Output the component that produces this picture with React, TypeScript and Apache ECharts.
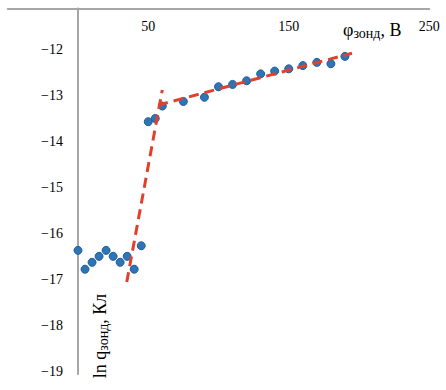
import React, { useEffect, useRef } from "react";
import * as echarts from "echarts";

const FONT = '"Liberation Serif", "Times New Roman", serif';

// φ_зонд, В
const phi = [0, 5, 10, 15, 20, 25, 30, 35, 40, 45, 50, 55, 60, 75, 90, 100, 110, 120, 130, 140, 150, 160, 170, 180, 190];
// ln q_зонд
const lnq = [
  -16.36, -16.77, -16.62, -16.49, -16.36, -16.49, -16.62, -16.49, -16.77, -16.26,
  -13.56, -13.49, -13.22, -13.12, -13.03, -12.8, -12.75, -12.67, -12.52, -12.46,
  -12.41, -12.34, -12.27, -12.3, -12.14,
];
// trend lines (endpoints)
const steepX = [34.7, 60];
const steepY = [-17.05, -12.87];
const flatX = [57, 195];
const flatY = [-13.2, -12.07];

const yTicks = [-19, -18, -17, -16, -15, -14, -13, -12];

export default function App() {
  const ref = useRef<HTMLDivElement>(null);
  useEffect(() => {
    if (!ref.current) return;
    const chart = echarts.init(ref.current, null, { renderer: "svg" });
    const axisLine = { lineStyle: { color: "#A6A6A6", width: 2 } };
    const dashed = {
      color: "#E0402C",
      width: 3,
      type: [10, 6] as any,
      cap: "butt" as any,
    };
    chart.setOption({
      animation: false,
      grid: {
        left: 7.75,
        right: 16.75,
        top: 8.6,
        bottom: 16,
        containLabel: false,
        outerBoundsMode: "none",
      },
      xAxis: {
        type: "value",
        position: "top",
        min: -50,
        max: 250,
        interval: 100,
        axisLine: { onZero: false, ...axisLine },
        axisTick: { show: false },
        splitLine: { show: false },
        axisLabel: {
          inside: true,
          margin: 11,
          fontFamily: FONT,
          fontSize: 14,
          color: "#000",
          formatter: (v: number) => (v < 0 ? "" : String(v)),
        },
      },
      yAxis: {
        type: "value",
        position: "left",
        offset: -70.25,
        min: -19.05,
        max: -11.1,
        axisLine: { onZero: false, ...axisLine },
        axisTick: { show: false },
        splitLine: { show: false },
        axisLabel: {
          customValues: yTicks,
          margin: 15,
          fontFamily: FONT,
          fontSize: 14,
          color: "#000",
          formatter: (v: number) => String(v).replace("-", "\u2212"),
        },
      },
      series: [
        {
          type: "scatter",
          data: phi.map((x, i) => [x, lnq[i]]),
          symbolSize: 8,
          itemStyle: { color: "#2E75B6", borderColor: "#1F5C99", borderWidth: 1, opacity: 1 },
          z: 2,
        },
        {
          type: "line",
          data: steepX.map((x, i) => [x, steepY[i]]),
          symbol: "none",
          lineStyle: dashed,
          z: 3,
        },
        {
          type: "line",
          data: flatX.map((x, i) => [x, flatY[i]]),
          symbol: "none",
          lineStyle: dashed,
          z: 3,
        },
      ],
      graphic: [
        {
          type: "text",
          x: 343,
          y: 30,
          style: {
            text: "{a|φ}{s|зонд}{a|, В}",
            align: "left",
            verticalAlign: "middle",
            rich: {
              a: { fontFamily: FONT, fontSize: 18, lineHeight: 20, fill: "#000", color: "#000" },
              s: { fontFamily: FONT, fontSize: 14, lineHeight: 14, verticalAlign: "bottom", fill: "#000", color: "#000" },
            },
          },
        },
        {
          type: "text",
          x: 100,
          y: 336,
          rotation: Math.PI / 2,
          style: {
            text: "{a|ln q}{s|зонд}{a|, Кл}",
            align: "center",
            verticalAlign: "middle",
            rich: {
              a: { fontFamily: FONT, fontSize: 18, lineHeight: 20, fill: "#000", color: "#000" },
              s: { fontFamily: FONT, fontSize: 14, lineHeight: 14, verticalAlign: "bottom", fill: "#000", color: "#000" },
            },
          },
        },
      ],
    });
    return () => chart.dispose();
  }, []);
  return (
    <div
      ref={ref}
      style={{ position: "fixed", left: 0, top: 0, width: 446, height: 390, background: "#fff" }}
    />
  );
}
